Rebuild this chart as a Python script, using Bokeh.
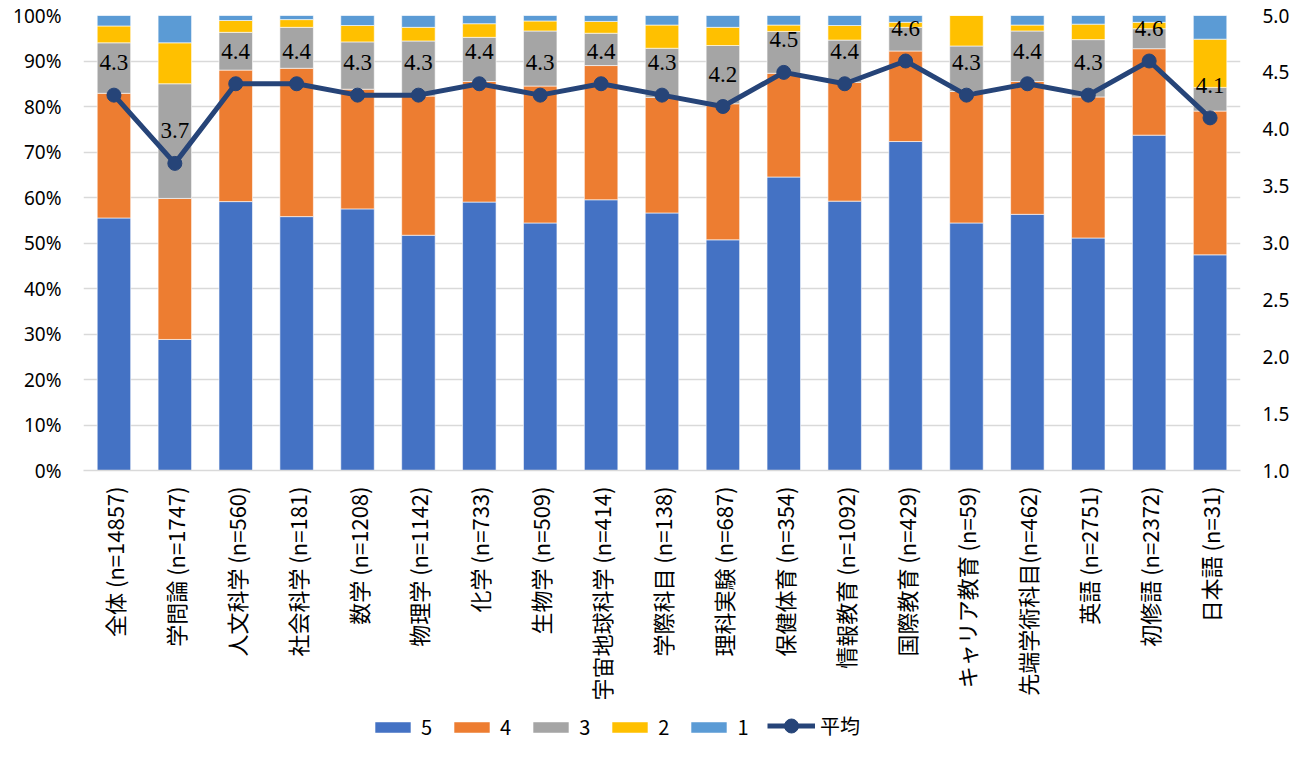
import math
from bokeh.plotting import figure
from bokeh.layouts import column
from bokeh.models import (ColumnDataSource, FactorRange, Range1d, LinearAxis,
                          NumeralTickFormatter, Legend, LegendItem, LabelSet, FixedTicker)
from bokeh.embed import file_html
from bokeh.resources import INLINE

categories = ["全体 (n=14857)", "学問論 (n=1747)", "人文科学 (n=560)", "社会科学 (n=181)",
              "数学 (n=1208)", "物理学 (n=1142)", "化学 (n=733)", "生物学 (n=509)",
              "宇宙地球科学 (n=414)", "学際科目 (n=138)", "理科実験 (n=687)", "保健体育 (n=354)",
              "情報教育 (n=1092)", "国際教育 (n=429)", "キャリア教育 (n=59)", "先端学術科目(n=462)",
              "英語 (n=2751)", "初修語 (n=2372)", "日本語 (n=31)"]

# shares (%) of each rating
r5 = [55.5, 28.8, 59.1, 55.8, 57.5, 51.7, 59.0, 54.4, 59.5, 56.6, 50.7, 64.5, 59.2, 72.3, 54.4, 56.3, 51.1, 73.7, 47.4]
r4 = [27.4, 31.0, 28.9, 32.6, 26.3, 30.6, 26.5, 30.1, 29.5, 25.4, 29.9, 22.8, 26.1, 19.9, 28.9, 29.2, 31.0, 19.0, 31.6]
r3 = [11.1, 25.2, 8.3, 9.0, 10.4, 12.1, 9.7, 12.1, 7.1, 10.8, 12.8, 9.2, 9.3, 5.2, 10.0, 11.1, 12.6, 4.4, 5.2]
r2 = [3.7, 9.0, 2.6, 1.7, 3.6, 3.0, 3.0, 2.2, 2.6, 5.1, 4.0, 1.4, 3.2, 1.1, 6.7, 1.3, 3.4, 1.4, 10.6]
r1 = [2.3, 6.0, 1.1, 0.9, 2.2, 2.6, 1.8, 1.2, 1.3, 2.1, 2.6, 2.1, 2.2, 1.5, 0.0, 2.1, 1.9, 1.5, 5.2]
averages = [4.3, 3.7, 4.4, 4.4, 4.3, 4.3, 4.4, 4.3, 4.4, 4.3, 4.2, 4.5, 4.4, 4.6, 4.3, 4.4, 4.3, 4.6, 4.1]

series_labels = ["5", "4", "3", "2", "1"]
avg_label = "平均"
colors = ["#4472C4", "#ED7D31", "#A5A5A5", "#FFC000", "#5B9BD5"]
line_color = "#264478"

src = ColumnDataSource(dict(
    cat=categories,
    s5=[v / 100 for v in r5], s4=[v / 100 for v in r4], s3=[v / 100 for v in r3],
    s2=[v / 100 for v in r2], s1=[v / 100 for v in r1],
    avg=averages, avg_label=["%.1f" % v for v in averages],
))

p = figure(width=1306, height=710, x_range=FactorRange(*categories), y_range=Range1d(0, 1),
           output_backend="svg", toolbar_location=None,
           min_border_left=83, min_border_right=66, min_border_top=15, min_border_bottom=240)
p.outline_line_color = None

bars = p.vbar_stack(["s5", "s4", "s3", "s2", "s1"], x="cat", width=0.55, color=colors,
                    source=src, line_color="white", line_width=0.6)

p.extra_y_ranges = {"avg": Range1d(1, 5)}
p.line(x="cat", y="avg", source=src, y_range_name="avg", line_color=line_color, line_width=5)
p.scatter(x="cat", y="avg", source=src, y_range_name="avg", size=14,
          fill_color=line_color, line_color=line_color)

labels = LabelSet(x="cat", y="avg", text="avg_label", source=src, y_range_name="avg",
                  y_offset=25, text_align="center", text_baseline="alphabetic",
                  text_font="Lato", text_font_size="23px", text_color="#000000")
p.add_layout(labels)

# grid
p.xgrid.grid_line_color = None
p.ygrid.ticker = FixedTicker(ticks=[i / 10 for i in range(11)])
p.ygrid.grid_line_color = "#d9d9d9"
p.ygrid.grid_line_width = 1.3

# left axis
ya = p.yaxis[0]
ya.ticker = FixedTicker(ticks=[i / 10 for i in range(11)])
ya.formatter = NumeralTickFormatter(format="0%")
ya.axis_line_color = None
ya.major_tick_line_color = None
ya.minor_tick_line_color = None
ya.major_tick_out = 0
ya.major_label_standoff = 22
ya.major_label_text_font = "Noto Sans"
ya.major_label_text_font_size = "19px"
ya.major_label_text_color = "#000000"

# right axis
ra = LinearAxis(y_range_name="avg", ticker=FixedTicker(ticks=[1 + 0.5 * i for i in range(9)]),
                formatter=NumeralTickFormatter(format="0.0"))
ra.axis_line_color = None
ra.major_tick_line_color = None
ra.minor_tick_line_color = None
ra.major_tick_out = 0
ra.major_label_standoff = 22
ra.major_label_text_font = "Noto Sans"
ra.major_label_text_font_size = "19px"
ra.major_label_text_color = "#000000"
p.add_layout(ra, "right")

# x axis
xa = p.xaxis[0]
xa.axis_line_color = "#d9d9d9"
xa.axis_line_width = 1.3
xa.major_tick_line_color = None
xa.minor_tick_line_color = None
xa.major_tick_out = 0
xa.major_label_orientation = math.pi / 2
xa.major_label_standoff = 16
xa.major_label_text_font = "Noto Sans CJK JP"
xa.major_label_text_font_size = "22px"
xa.major_label_text_color = "#000000"

# legend strip (separate small figure below the chart)
lg = figure(width=1306, height=52, x_range=Range1d(0, 1), y_range=Range1d(0, 1),
            output_backend="svg", toolbar_location=None,
            x_axis_location=None, y_axis_location=None,
            min_border=0, min_border_left=0, min_border_right=0,
            min_border_top=0, min_border_bottom=0)
lg.grid.visible = False
lg.outline_line_color = None
# invisible placeholder renderers (outside the visible range) that carry the legend styles
hidden = ColumnDataSource(dict(x=[-5.0], y=[-5.0], top=[-5.0]))
dummy_bars = [lg.vbar(x="x", top="top", width=0.5, source=hidden, color=c,
                      line_color="white", line_width=0.6) for c in colors]
dl = lg.line(x="x", y="y", source=hidden, line_color=line_color, line_width=5)
dm = lg.scatter(x="x", y="y", source=hidden, size=14, fill_color=line_color, line_color=line_color)

common = dict(orientation="horizontal", background_fill_alpha=0, border_line_color=None,
              padding=0, margin=0, label_width=10,
              label_text_font="Noto Sans CJK JP", label_text_font_size="20px",
              label_text_color="#000000")
bar_items = [LegendItem(label=series_labels[i], renderers=[dummy_bars[i]]) for i in range(5)]
legend_bars = Legend(items=bar_items, location=(287, 21), glyph_width=45, glyph_height=14,
                     label_standoff=6, spacing=17, **common)
legend_line = Legend(items=[LegendItem(label=avg_label, renderers=[dl, dm])], location=(684, 19),
                     glyph_width=48, glyph_height=35, label_standoff=5, spacing=0, **common)
lg.add_layout(legend_bars, "center")
lg.add_layout(legend_line, "center")

layout = column(p, lg, spacing=0)
open("out.html", "w").write(file_html(layout, INLINE))
